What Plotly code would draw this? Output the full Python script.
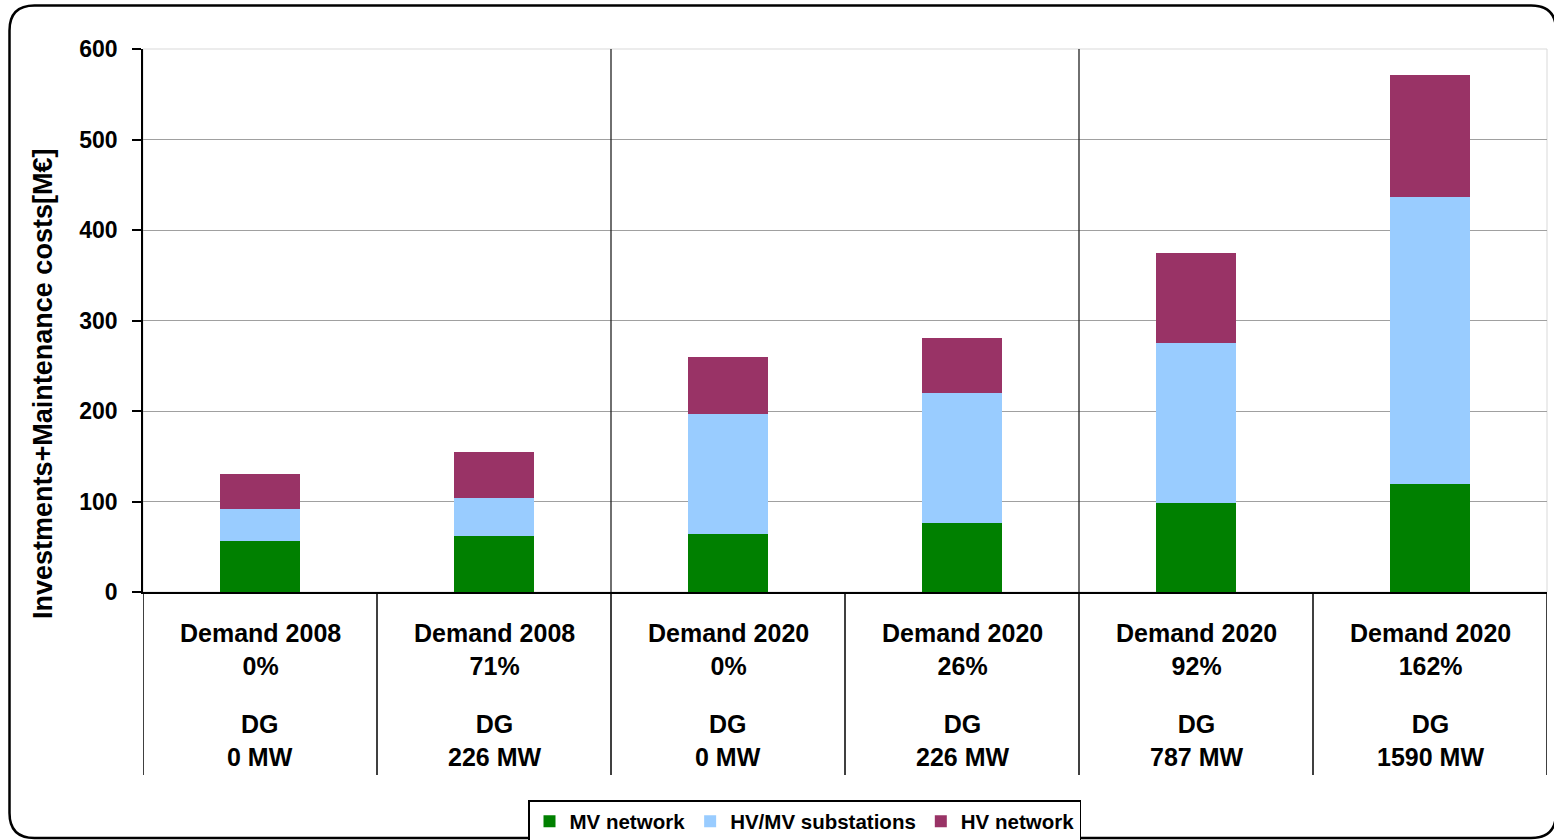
import plotly.graph_objects as go

# ---- data ----
demand_labels = ["Demand 2008<br>0%", "Demand 2008<br>71%", "Demand 2020<br>0%",
                 "Demand 2020<br>26%", "Demand 2020<br>92%", "Demand 2020<br>162%"]
dg_labels = ["DG<br>0 MW", "DG<br>226 MW", "DG<br>0 MW", "DG<br>226 MW", "DG<br>787 MW", "DG<br>1590 MW"]
mv_network = [56, 62, 64, 76, 98, 119]
hvmv_substations = [36, 42, 133, 144, 177, 317]
hv_network = [38, 51, 63, 61, 100, 135]
series_names = ["MV network", "HV/MV substations", "HV network"]
series_colors = ["#008000", "#99CCFF", "#993366"]
y_ticks = [0, 100, 200, 300, 400, 500, 600]
y_title = "Investments+Maintenance costs[M€]"

FONT = "Liberation Sans, Arial, sans-serif"
W, H = 1554, 840
ML, MR, MT, MB = 143, 7, 49, 248
PW, PH = W - ML - MR, H - MT - MB

def px_x(px):
    return (px - ML) / PW

def px_y(py):
    return (H - MB - py) / PH

xpos = list(range(len(demand_labels)))

fig = go.Figure()
for name, vals, col in zip(series_names, [mv_network, hvmv_substations, hv_network], series_colors):
    fig.add_trace(go.Bar(x=xpos, y=vals, name=name, marker=dict(color=col, line=dict(width=0))))

shapes = []
# light plot border (covers top gridline)
shapes.append(dict(type="rect", xref="paper", yref="paper", x0=0, x1=1, y0=0, y1=1,
                   line=dict(color="#d9d9d9", width=1), layer="below"))
# vertical group separators inside plot
for xv in [1.5, 3.5]:
    shapes.append(dict(type="line", xref="x", yref="y", x0=xv, x1=xv, y0=0, y1=600,
                       line=dict(color="#222222", width=1.3), layer="above"))
# category box separators below axis
for i in range(len(xpos) + 1):
    xv = i - 0.5
    shapes.append(dict(type="line", xref="x", yref="paper", x0=xv, x1=xv, y0=0, y1=px_y(775),
                       line=dict(color="black", width=1.5), layer="above"))
# outer rounded border
x0, x1 = px_x(9.5), px_x(1556)
y0, y1 = px_y(838), px_y(5.5)
dx, dy = 25 / PW, 25 / PH
path = (f"M {x0+dx},{y1} L {x1-dx},{y1} Q {x1},{y1} {x1},{y1-dy} "
        f"L {x1},{y0+dy} Q {x1},{y0} {x1-dx},{y0} L {x0+dx},{y0} "
        f"Q {x0},{y0} {x0},{y0+dy} L {x0},{y1-dy} Q {x0},{y1} {x0+dx},{y1} Z")
shapes.append(dict(type="path", xref="paper", yref="paper", path=path,
                   line=dict(color="black", width=2.5), layer="above"))

annotations = []
for i in xpos:
    annotations.append(dict(x=i, y=px_y(649.5), xref="x", yref="paper", text=demand_labels[i],
                            showarrow=False, xanchor="center", yanchor="middle",
                            font=dict(family=FONT, size=25, color="black", weight="bold")))
    annotations.append(dict(x=i, y=px_y(740.5), xref="x", yref="paper", text=dg_labels[i],
                            showarrow=False, xanchor="center", yanchor="middle",
                            font=dict(family=FONT, size=25, color="black", weight="bold")))
annotations.append(dict(x=px_x(43), y=px_y(384), xref="paper", yref="paper", text=y_title,
                        textangle=-90, showarrow=False, xanchor="center", yanchor="middle",
                        font=dict(family=FONT, size=27, color="black", weight="bold")))

fig.update_layout(
    width=W, height=H,
    margin=dict(l=ML, r=MR, t=MT, b=MB, autoexpand=False),
    paper_bgcolor="white", plot_bgcolor="white",
    barmode="stack", bargap=0.662,
    font=dict(family=FONT, color="black"),
    xaxis=dict(range=[-0.5, 5.5], showticklabels=False, showgrid=False, zeroline=False,
               showline=True, linecolor="black", linewidth=1.5, ticks=""),
    yaxis=dict(range=[0, 600], tickvals=y_ticks, showgrid=True, gridcolor="#a0a0a0", gridwidth=1,
               zeroline=False, showline=True, linecolor="black", linewidth=1.5,
               ticks="outside", ticklen=9, tickcolor="black", tickwidth=1.5,
               ticklabelstandoff=10,
               tickfont=dict(family=FONT, size=23, color="black", weight="bold")),
    legend=dict(orientation="h", x=px_x(804.5), xanchor="center", y=px_y(800), yanchor="top",
                bordercolor="black", borderwidth=1.5, bgcolor="white", traceorder="normal",
                font=dict(family=FONT, size=20.5, color="black", weight="bold"),
                itemwidth=30),
    shapes=shapes,
    annotations=annotations,
    showlegend=True,
)

fig.write_html("out.html", config={"displayModeBar": False},
               post_script="document.body.style.margin='0';document.body.style.overflow='hidden';")
